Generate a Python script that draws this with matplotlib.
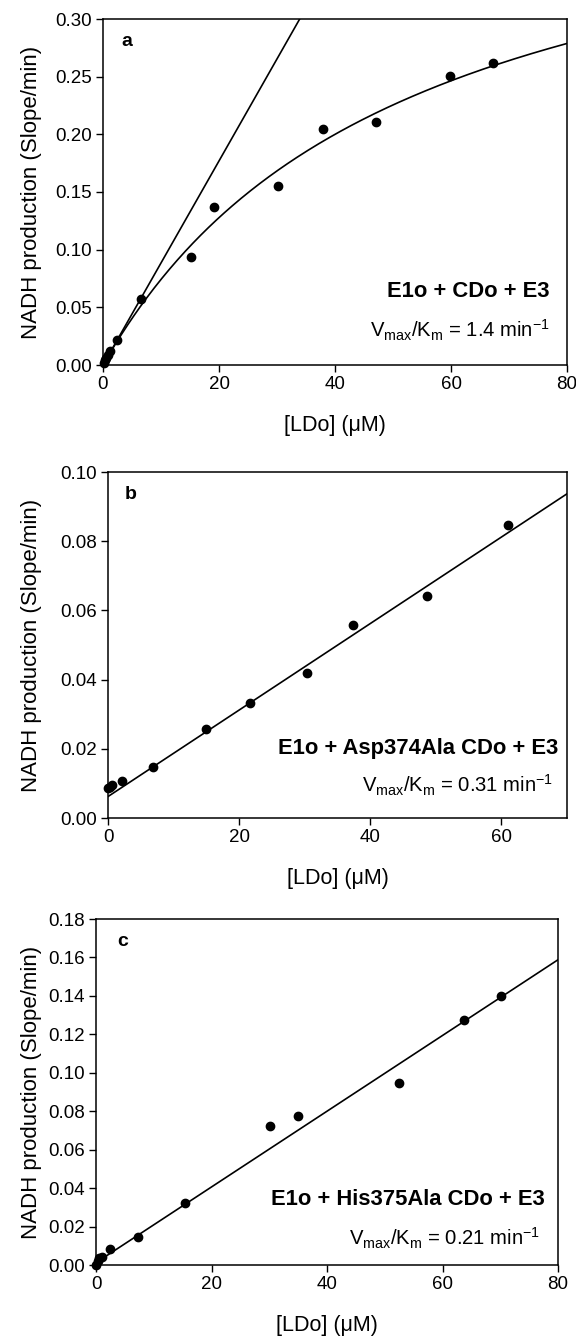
import numpy as np
import matplotlib
matplotlib.use("Agg")
import matplotlib.pyplot as plt

plt.rcParams['font.family'] = ['Liberation Sans', 'DejaVu Sans']
plt.rcParams['mathtext.fontset'] = 'custom'
plt.rcParams['mathtext.rm'] = 'Liberation Sans'
plt.rcParams['mathtext.default'] = 'regular'

# panel a: wild-type CDo, Michaelis-Menten fit
ldo_a = [0.2, 0.4, 0.6, 0.9, 1.2, 2.4, 6.6, 15.2, 19.1, 30.1, 37.9, 47.1, 59.9, 67.3]
rate_a = [0.002, 0.004, 0.006, 0.009, 0.012, 0.022, 0.057, 0.094, 0.137, 0.155,
          0.205, 0.211, 0.251, 0.262]
vmax_a = 0.46
km_a = 52.0

# panel b: Asp374Ala CDo, linear fit
ldo_b = [0.05, 0.3, 0.6, 2.1, 6.9, 15.0, 21.6, 30.4, 37.4, 48.7, 61.0]
rate_b = [0.0086, 0.0090, 0.0096, 0.0108, 0.0146, 0.0257, 0.0333, 0.0418, 0.0558,
          0.0642, 0.0847]
slope_b = 0.00125
icpt_b = 0.0062

# panel c: His375Ala CDo, linear fit
ldo_c = [0.0, 0.3, 0.5, 1.0, 2.4, 7.2, 15.4, 30.1, 35.0, 52.5, 63.8, 70.1]
rate_c = [0.0, 0.002, 0.0035, 0.004, 0.0082, 0.0147, 0.0321, 0.0725, 0.0775,
          0.0945, 0.1273, 0.1400]
slope_c = 0.00197
icpt_c = 0.0012

W, H = 576, 1343
fig = plt.figure(figsize=(W / 100, H / 100), dpi=100)


def make_axes(left, top, right, bottom):
    ax = fig.add_axes([left / W, 1 - bottom / H, (right - left) / W, (bottom - top) / H])
    # y-label is placed in figure pixels, centred on the axes
    fig.text(32 / W, 1 - (top + bottom) / 2 / H, 'NADH production (Slope/min)',
             rotation=90, ha='center', va='center', fontsize=16)
    return ax


def style(ax, xmax, ymax, ystep):
    ax.set_xlim(0, xmax)
    ax.set_ylim(0, ymax)
    ax.set_xticks(np.arange(0, xmax + 0.1, 20))
    yt = np.arange(0, ymax + ystep / 2, ystep)
    ax.set_yticks(yt)
    ax.set_yticklabels(['%.2f' % v for v in yt])
    ax.tick_params(direction='out', length=5, width=1.0, labelsize=13.5, pad=3,
                   top=False, right=False)
    for s in ax.spines.values():
        s.set_linewidth(1.1)
    ax.set_xlabel('[LDo] (μM)', fontsize=15.5, labelpad=16)


def annotate(ax, letter, title, ratio, lx, ly, tx, ty, rx, ry):
    ax.text(lx, ly, letter, transform=ax.transAxes, fontsize=14, fontweight='bold',
            ha='left', va='center')
    ax.text(tx, ty, title, transform=ax.transAxes, fontsize=15.8, fontweight='bold',
            ha='right', va='center')
    ax.text(rx, ry, r'V$_{max}$/K$_{m}$ = %s min$^{-1}$' % ratio, transform=ax.transAxes,
            fontsize=14.6, ha='right', va='center')


ax_a = make_axes(103, 19, 567, 365)
ax_b = make_axes(108, 472, 567, 818)
ax_c = make_axes(96, 919, 558, 1265)

# a
xs = np.linspace(0, 80, 300)
ax_a.plot(xs, vmax_a * xs / (km_a + xs), color='black', lw=1.2)
ax_a.plot(xs, vmax_a / km_a * xs, color='black', lw=1.2)
ax_a.plot(ldo_a, rate_a, 'o', color='black', ms=6, clip_on=False)
style(ax_a, 80, 0.30, 0.05)
annotate(ax_a, 'a', 'E1o + CDo + E3', '1.4', 0.04, 0.934, 0.963, 0.211, 0.963, 0.101)

# b
xs = np.linspace(0, 70, 50)
ax_b.plot(xs, icpt_b + slope_b * xs, color='black', lw=1.2)
ax_b.plot(ldo_b, rate_b, 'o', color='black', ms=6, clip_on=False)
style(ax_b, 70, 0.10, 0.02)
annotate(ax_b, 'b', 'E1o + Asp374Ala CDo + E3', '0.31', 0.037, 0.934, 0.980, 0.202,
         0.969, 0.095)

# c
xs = np.linspace(0, 80, 50)
ax_c.plot(xs, icpt_c + slope_c * xs, color='black', lw=1.2)
ax_c.plot(ldo_c, rate_c, 'o', color='black', ms=6, clip_on=False)
style(ax_c, 80, 0.18, 0.02)
annotate(ax_c, 'c', 'E1o + His375Ala CDo + E3', '0.21', 0.045, 0.934, 0.972, 0.188,
         0.961, 0.078)

fig.savefig('out.png', dpi=100)
